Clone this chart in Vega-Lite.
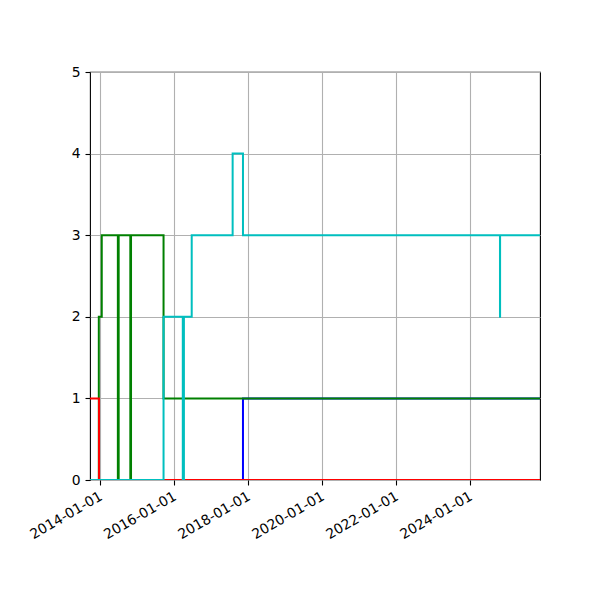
{
  "$schema": "https://vega.github.io/schema/vega-lite/v6.json",
  "description": "Step lines for four series, 2013-2025.",
  "autosize": "none",
  "width": 450,
  "height": 408,
  "padding": {"left": 90, "top": 72, "right": 60, "bottom": 120},
  "background": "white",
  "data": {
    "values": [
      {"series": "blue", "date": "2013-09-21", "value": 0},
      {"series": "blue", "date": "2017-11-09", "value": 1},
      {"series": "blue", "date": "2025-11-19", "value": 1},

      {"series": "green", "date": "2013-09-21", "value": 0},
      {"series": "green", "date": "2013-12-17", "value": 2},
      {"series": "green", "date": "2014-01-15", "value": 3},
      {"series": "green", "date": "2014-06-23", "value": 0},
      {"series": "green", "date": "2014-07-01", "value": 3},
      {"series": "green", "date": "2014-10-24", "value": 0},
      {"series": "green", "date": "2014-10-31", "value": 3},
      {"series": "green", "date": "2015-09-17", "value": 1},
      {"series": "green", "date": "2025-11-19", "value": 1},

      {"series": "red", "date": "2013-09-21", "value": 1},
      {"series": "red", "date": "2013-12-19", "value": 0},
      {"series": "red", "date": "2025-11-19", "value": 0},

      {"series": "cyan", "date": "2013-09-21", "value": 0},
      {"series": "cyan", "date": "2015-09-17", "value": 2},
      {"series": "cyan", "date": "2016-03-25", "value": 0},
      {"series": "cyan", "date": "2016-04-05", "value": 2},
      {"series": "cyan", "date": "2016-06-21", "value": 3},
      {"series": "cyan", "date": "2017-07-30", "value": 4},
      {"series": "cyan", "date": "2017-11-09", "value": 3},
      {"series": "cyan", "date": "2024-10-20", "value": 2},
      {"series": "cyan", "date": "2024-10-21", "value": 3},
      {"series": "cyan", "date": "2025-11-19", "value": 3}
    ]
  },
  "encoding": {
    "x": {
      "field": "date",
      "type": "temporal",
      "title": null,
      "scale": {"type": "utc", "domain": [{"year": 2013, "month": 9, "date": 21, "utc": true}, {"year": 2025, "month": 11, "date": 19, "utc": true}], "nice": false},
      "axis": {
        "values": [
          {"year": 2014, "month": 1, "date": 1, "utc": true},
          {"year": 2016, "month": 1, "date": 1, "utc": true},
          {"year": 2018, "month": 1, "date": 1, "utc": true},
          {"year": 2020, "month": 1, "date": 1, "utc": true},
          {"year": 2022, "month": 1, "date": 1, "utc": true},
          {"year": 2024, "month": 1, "date": 1, "utc": true}
        ],
        "labelExpr": "utcFormat(datum.value, '%Y-%m-%d')",
        "labelOverlap": false,
        "labelAngle": -30,
        "labelAlign": "right",
        "labelBaseline": "top",
        "labelPadding": 4,
        "labelOffset": -3,
        "labelFontSize": 13.9,
        "labelFont": "DejaVu Sans",
        "labelColor": "black"
      }
    },
    "y": {
      "field": "value",
      "type": "quantitative",
      "title": null,
      "scale": {"domain": [0, 5], "nice": false, "zero": true},
      "axis": {"values": [0, 1, 2, 3, 4, 5], "format": "d", "labelPadding": 5, "labelFontSize": 13.9, "labelFont": "DejaVu Sans", "labelColor": "black"}
    },
    "color": {
      "field": "series",
      "type": "nominal",
      "legend": null,
      "scale": {
        "domain": ["red", "blue", "green", "cyan"],
        "range": ["#ff0000", "#0000ff", "#008000", "#00bfbf"]
      }
    }
  },
  "layer": [
    {
      "transform": [{"filter": "datum.series == 'blue'"}],
      "mark": {"type": "line", "interpolate": "step-after", "strokeWidth": 2, "clip": true}
    },
    {
      "transform": [{"filter": "datum.series == 'green'"}],
      "mark": {"type": "line", "interpolate": "step-after", "strokeWidth": 2, "clip": true}
    },
    {
      "transform": [{"filter": "datum.series == 'red'"}],
      "mark": {"type": "line", "interpolate": "step-after", "strokeWidth": 2, "clip": true}
    },
    {
      "transform": [{"filter": "datum.series == 'cyan'"}],
      "mark": {"type": "line", "interpolate": "step-after", "strokeWidth": 2, "clip": true}
    }
  ],
  "config": {
    "font": "DejaVu Sans",
    "view": {"stroke": "black", "strokeWidth": 1.1},
    "axis": {
      "grid": true,
      "gridColor": "#b0b0b0",
      "gridWidth": 1.1,
      "domain": false,
      "tickColor": "black",
      "tickWidth": 1.1,
      "tickSize": 5
    }
  }
}
